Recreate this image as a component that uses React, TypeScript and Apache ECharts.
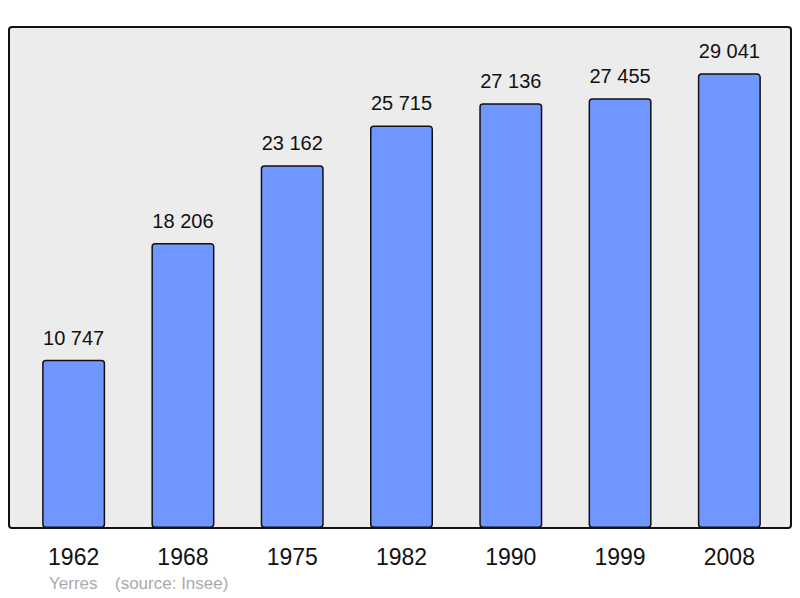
import React, { useEffect, useRef } from "react";
import * as echarts from "echarts";

const years = ["1962", "1968", "1975", "1982", "1990", "1999", "2008"];
const population = [10747, 18206, 23162, 25715, 27136, 27455, 29041];
const footerPlace = "Yerres";
const footerSource = "(source: Insee)";

const fmt = (v: number) => {
  const s = String(v);
  return s.replace(/\B(?=(\d{3})+(?!\d))/g, " ");
};

export default function App() {
  const ref = useRef<HTMLDivElement>(null);
  useEffect(() => {
    if (!ref.current) return;
    document.body.style.margin = "0";
    const chart = echarts.init(ref.current, null, { renderer: "svg" });
    chart.setOption({
      animation: false,
      textStyle: { fontFamily: "Liberation Sans" },
      grid: { left: 19, right: 16, top: 27, bottom: 70, containLabel: false },
      graphic: [
        {
          type: "rect",
          z: -10,
          shape: { x: 9, y: 27, width: 782, height: 501, r: 3 },
          style: { fill: "#ececec", stroke: "#111", lineWidth: 2 },
          silent: true,
        },
        {
          type: "text",
          x: 49,
          y: 583,
          style: {
            text: footerPlace,
            fill: "#aaaaaa",
            font: "17px 'Liberation Sans'",
            textVerticalAlign: "middle",
          },
        },
        {
          type: "text",
          x: 115,
          y: 583,
          style: {
            text: footerSource,
            fill: "#aaaaaa",
            font: "17px 'Liberation Sans'",
            textVerticalAlign: "middle",
          },
        },
      ],
      xAxis: {
        type: "category",
        data: years,
        axisLine: { show: false },
        axisTick: { show: false },
        axisLabel: {
          color: "#111",
          fontSize: 23,
          margin: 17,
          fontFamily: "Liberation Sans",
        },
      },
      yAxis: {
        type: "value",
        min: 0,
        max: 32000,
        show: false,
        splitLine: { show: false },
      },
      series: [
        {
          type: "bar",
          data: population,
          barWidth: 63,
          itemStyle: {
            color: "#7096ff",
            borderColor: "#111",
            borderWidth: 1.5,
            borderRadius: 3,
          },
          label: {
            show: true,
            position: "top",
            distance: 12,
            color: "#111",
            fontSize: 20,
            fontFamily: "Liberation Sans",
            formatter: (p: any) => fmt(p.value),
          },
        },
      ],
    });
    return () => chart.dispose();
  }, []);
  return (
    <div
      ref={ref}
      style={{ position: "absolute", left: 0, top: 0, width: 800, height: 598 }}
    />
  );
}
